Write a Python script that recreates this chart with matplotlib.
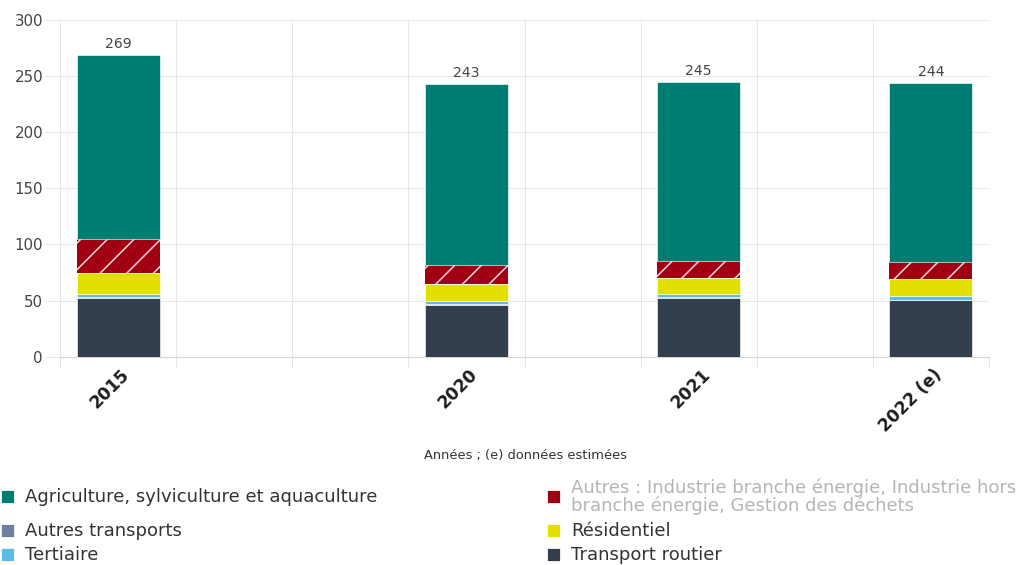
import numpy as np
import matplotlib.pyplot as plt
from matplotlib.patches import Rectangle
from matplotlib.transforms import ScaledTranslation

# données (Mt CO2e environ)
annees = ['2015', '2020', '2021', '2022 (e)']
transport_routier = [52.5, 46.3, 52.6, 50.5]
autres_transports = [0.5, 0.4, 0.4, 0.4]
tertiaire = [3.3, 2.6, 2.5, 3.2]
residentiel = [17.9, 15.4, 14.3, 15.4]
autres = [30.3, 16.7, 15.1, 14.6]
agriculture = [164.5, 161.6, 160.1, 159.9]
totaux = [269, 243, 245, 244]

# emplacement de chaque année sur un axe de 8 cases
pos = [0, 3, 5, 7]

W, H = 1025, 565
DPI = 160
def px(v):  # pixels -> points
    return v * 72 / DPI

plt.rcParams['font.family'] = ['DejaVu Sans']
plt.rcParams['hatch.linewidth'] = px(1.6)

fig = plt.figure(figsize=(W / DPI, H / DPI), dpi=DPI)
ax = fig.add_axes([60 / W, 1 - 356.7 / H, (989 - 60) / W, (356.7 - 20) / H])

series = [
    (transport_routier, '#323e4b', None),
    (autres_transports, '#6b80a3', None),
    (tertiaire, '#5bbde6', None),
    (residentiel, '#e3e000', None),
    (autres, '#a00012', '//'),
    (agriculture, '#007d73', None),
]
bottom = np.zeros(len(pos))
for vals, col, hatch in series:
    if hatch:
        ax.bar(pos, vals, 0.715, bottom=bottom, color=col, edgecolor='#f2cfd2',
               linewidth=0, hatch=hatch, zorder=3)
    else:
        ax.bar(pos, vals, 0.715, bottom=bottom, color=col, edgecolor='white',
               linewidth=px(0.6), zorder=3)
    bottom += np.array(vals)

for x, tot in zip(pos, totaux):
    ax.annotate(str(tot), (x, tot), xytext=(0, px(4)), textcoords='offset points',
                ha='center', va='bottom', fontsize=px(14), color='#444444')

ax.set_xlim(-0.5, 7.5)
ax.set_ylim(0, 300)
ax.set_yticks(np.arange(0, 301, 50))
ax.set_xticks(pos)
ax.set_xticklabels(annees, rotation=45, ha='right', va='top', fontsize=px(17),
                   fontweight='bold', color='#1e1e1e')
ax.set_xticks(np.arange(-0.5, 8, 1), minor=True)
ax.tick_params(axis='x', which='major', length=0, pad=px(9))
ax.tick_params(axis='x', which='minor', length=px(10), width=px(1), color='#e6e6e6')
ax.tick_params(axis='y', length=px(16), width=px(1), color='#e6e6e6',
               labelsize=px(15), labelcolor='#444444', pad=px(1))
for lbl in ax.get_xticklabels():
    lbl.set_transform(lbl.get_transform() + ScaledTranslation(15 / DPI, 0, fig.dpi_scale_trans))

ax.grid(axis='y', color='#e6e6e6', linewidth=px(1), zorder=0)
ax.grid(axis='x', which='minor', color='#e6e6e6', linewidth=px(1), zorder=0)
for s in ['top', 'right', 'left']:
    ax.spines[s].set_visible(False)
ax.spines['bottom'].set_color('#d6d6d6')
ax.spines['bottom'].set_linewidth(px(1.2))

fig.text(526 / W, 1 - 455 / H, 'Années ; (e) données estimées', ha='center', va='center',
         fontsize=px(13), color='#333333')

# légende
legende = [
    (8, 497, '#007d73', 'Agriculture, sylviculture et aquaculture', '#333333'),
    (8, 531, '#6b80a3', 'Autres transports', '#333333'),
    (8, 555, '#5bbde6', 'Tertiaire', '#333333'),
    (554, 497, '#a00012', 'Autres : Industrie branche énergie, Industrie hors\nbranche énergie, Gestion des déchets', '#b5b5b5'),
    (554, 531, '#e3e000', 'Résidentiel', '#333333'),
    (554, 555, '#323e4b', 'Transport routier', '#333333'),
]
for mx, my, col, txt, tcol in legende:
    fig.add_artist(Rectangle(((mx - 5) / W, 1 - (my + 5) / H), 10 / W, 10 / H,
                             transform=fig.transFigure, color=col))
    fig.text((mx + 17) / W, 1 - my / H, txt, ha='left', va='center', fontsize=px(18),
             color=tcol, linespacing=0.95)

fig.savefig('out.png', dpi=DPI)
